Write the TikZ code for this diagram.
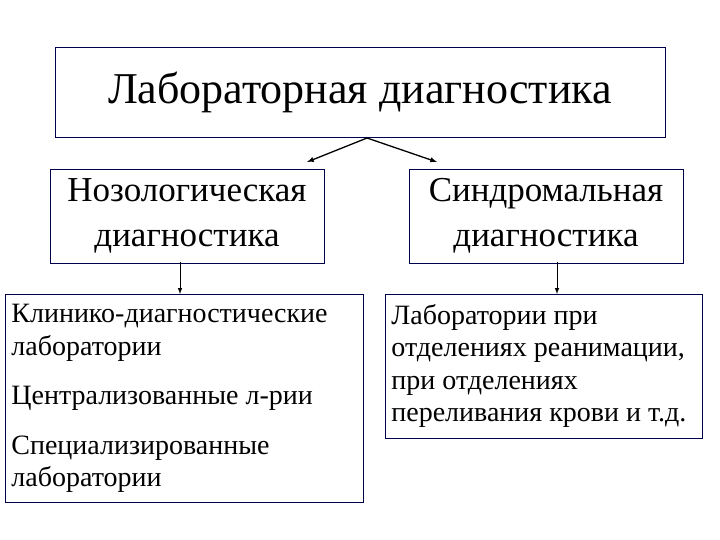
\documentclass[tikz,border=0pt]{standalone}
\usepackage{fontspec}
\setmainfont{Liberation Serif}
\begin{document}
\begin{tikzpicture}[x=1pt,y=-1pt,
  box/.style={draw=black!70!blue,line width=0.8pt},
  arr/.style={-latex,line width=1.3pt}]
\useasboundingbox (0,0) rectangle (720,540);
\node[box,minimum width=610,minimum height=90,font=\fontsize{44}{48}\selectfont] (top) at (360,92.5) {Лабораторная диагностика};
\node[box,minimum width=274,minimum height=94,align=center,font=\fontsize{35}{45}\selectfont] (nl) at (187,216) {Нозологическая\\диагностика};
\node[box,minimum width=274,minimum height=94,align=center,font=\fontsize{35}{45}\selectfont] (nr) at (546,216) {Синдромальная\\диагностика};
\node[box,minimum width=356,minimum height=206,align=flush left,text width=346,anchor=north west,inner xsep=6pt,inner ysep=10pt,font=\fontsize{28}{32.5}\selectfont] (bl) at (5,294) {Клинико-диагностические\\лаборатории\\[17pt]Централизованные л-рии\\[17pt]Специализированные\\лаборатории};
\node[box,minimum width=315,minimum height=141,align=flush left,text width=305,anchor=north west,inner xsep=6pt,inner ysep=10pt,font=\fontsize{28}{32.5}\selectfont] (br) at (385,294) {Лаборатории при\\отделениях реанимации,\\при отделениях\\переливания крови и т.д.};
\coordinate (apex) at (367,138);
\coordinate (lt) at (307,162);
\coordinate (rt) at (437,162);
\draw[arr] (apex) -- (lt);
\draw[arr] (apex) -- (rt);
\draw[arr,line width=1pt] (180,262) -- (180,294);
\draw[arr,line width=1pt] (557,262) -- (557,294);
\end{tikzpicture}
\end{document}
